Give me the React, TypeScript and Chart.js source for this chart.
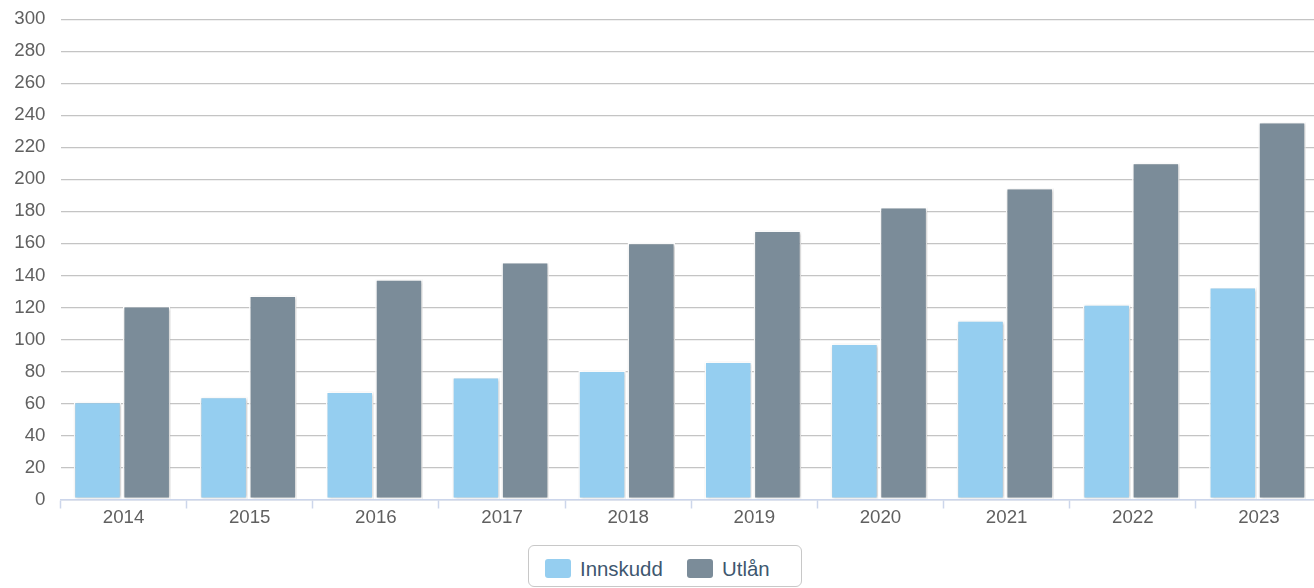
import React, { useEffect, useRef } from "react";
import { Chart, registerables } from "chart.js";

Chart.register(...registerables);

const years = ["2014", "2015", "2016", "2017", "2018", "2019", "2020", "2021", "2022", "2023"];
const innskudd = [61, 64.2, 67.5, 76.5, 80.6, 86.2, 97.5, 111.9, 121.9, 132.7];
const utlan = [120.8, 127.5, 137.5, 148.3, 160.4, 168.1, 182.7, 194.6, 210.4, 235.8];
const seriesNames = ["Innskudd", "Utlån"];
const seriesColors = ["#95cef0", "#7b8c99"];
const yMin = 0;
const yMax = 300;
const yStep = 20;

const FONT = "'Liberation Sans', Arial, Helvetica, sans-serif";

const shadowPlugin = {
  id: "barShadow",
  beforeDatasetsDraw(chart: any) {
    const ctx = chart.ctx;
    ctx.save();
    ctx.translate(-1.5, 0);
    ctx.shadowColor = "rgba(0,0,0,0.25)";
    ctx.shadowBlur = 3;
    ctx.shadowOffsetX = 1;
    ctx.shadowOffsetY = 1;
  },
  afterDatasetsDraw(chart: any) {
    chart.ctx.restore();
  },
};

export default function App() {
  const ref = useRef<HTMLCanvasElement | null>(null);

  useEffect(() => {
    if (!ref.current) return;
    const chart = new Chart(ref.current, {
      type: "bar",
      data: {
        labels: years,
        datasets: [
          {
            label: seriesNames[0],
            data: innskudd,
            backgroundColor: seriesColors[0],
            borderColor: "#ffffff",
            borderWidth: 1.5,
            borderSkipped: false,
            categoryPercentage: 0.78,
            barPercentage: 0.965,
          },
          {
            label: seriesNames[1],
            data: utlan,
            backgroundColor: seriesColors[1],
            borderColor: "#ffffff",
            borderWidth: 1.5,
            borderSkipped: false,
            categoryPercentage: 0.78,
            barPercentage: 0.965,
          },
        ],
      },
      options: {
        responsive: false,
        animation: false,
        devicePixelRatio: 1,
        layout: { padding: { left: 0, right: 8, top: 0, bottom: 0 } },
        plugins: {
          legend: { display: false },
          tooltip: { enabled: false },
        },
        scales: {
          x: {
            grid: {
              display: true,
              drawOnChartArea: false,
              drawTicks: true,
              tickLength: 9,
              tickColor: "#ccd6eb",
              tickWidth: 1.5,
              offset: true,
            },
            border: { display: true, color: "#ccd6eb", width: 1.5 },
            ticks: {
              color: "#606060",
              font: { family: FONT, size: 18.7 },
              padding: -2,
              maxRotation: 0,
            },
            afterFit(scale: any) {
              scale.height = 40.5;
            },
          },
          y: {
            min: yMin,
            max: yMax,
            grid: {
              color: "#c4c4c4",
              lineWidth: 1.2,
              drawTicks: true,
              tickLength: 7,
              tickColor: "rgba(0,0,0,0)",
            },
            border: { display: false },
            ticks: {
              stepSize: yStep,
              color: "#606060",
              font: { family: FONT, size: 18.7 },
              padding: 8,
            },
            afterFit(scale: any) {
              scale.width = 60.5;
            },
          },
        },
      },
      plugins: [shadowPlugin],
    });
    return () => chart.destroy();
  }, []);

  const legendText: React.CSSProperties = {
    position: "absolute",
    top: 556,
    fontFamily: FONT,
    fontSize: 20.4,
    color: "#3e576f",
    lineHeight: "26px",
    whiteSpace: "nowrap",
  };
  const sym = (left: number, color: string): React.CSSProperties => ({
    position: "absolute",
    left,
    top: 559,
    width: 26,
    height: 19,
    borderRadius: 3,
    background: color,
  });

  return (
    <div
      style={{
        position: "absolute",
        left: 0,
        top: 0,
        width: 1314,
        height: 588,
        overflow: "hidden",
        background: "#ffffff",
      }}
    >
      <canvas ref={ref} width={1330} height={540} style={{ display: "block" }} />
      <div
        style={{
          position: "absolute",
          left: 528,
          top: 545,
          width: 274,
          height: 42,
          border: "1px solid #c8c8c8",
          borderRadius: 6,
          boxSizing: "border-box",
        }}
      />
      <div style={sym(545, seriesColors[0])} />
      <div style={{ ...legendText, left: 580 }}>{seriesNames[0]}</div>
      <div style={sym(687, seriesColors[1])} />
      <div style={{ ...legendText, left: 722 }}>{seriesNames[1]}</div>
    </div>
  );
}
